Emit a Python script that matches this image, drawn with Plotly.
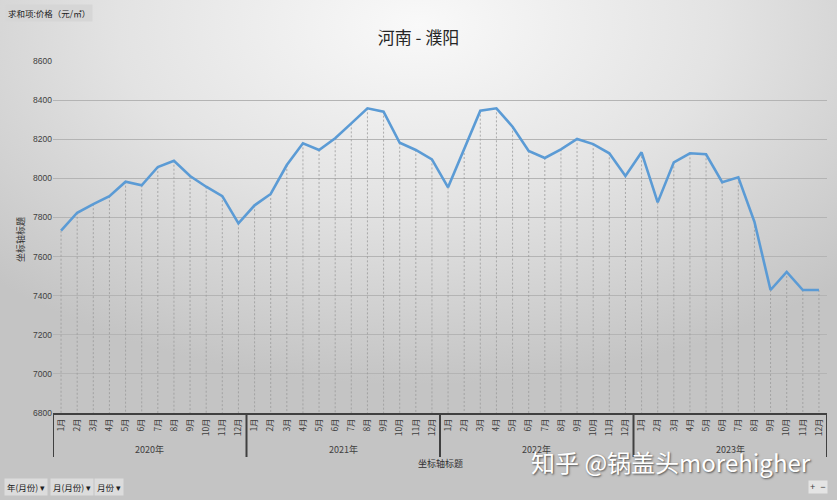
import base64
import plotly.graph_objects as go

# ---------------- data ----------------
years = ["2020年", "2021年", "2022年", "2023年"]
months = ["1月", "2月", "3月", "4月", "5月", "6月", "7月", "8月", "9月", "10月", "11月", "12月"]
prices_2020 = [7732, 7824, 7868, 7909, 7983, 7964, 8058, 8090, 8012, 7957, 7909, 7770]
prices_2021 = [7862, 7920, 8068, 8179, 8145, 8205, 8281, 8358, 8341, 8182, 8145, 8097]
prices_2022 = [7954, 8150, 8346, 8358, 8264, 8140, 8104, 8148, 8201, 8175, 8128, 8012]
prices_2023 = [8133, 7877, 8082, 8128, 8123, 7980, 8005, 7778, 7429, 7521, 7429, 7429]
y_ticks = [6800, 7000, 7200, 7400, 7600, 7800, 8000, 8200, 8400, 8600]

title_text = "河南 - 濮阳"
axis_title = "坐标轴标题"
field_label = "求和项:价格（元/㎡）"
filter_buttons = ["年(月份) ▾", "月(月份) ▾", "月份 ▾"]
watermark = "知乎 @锅盖头morehigher"

# ---------------- derived ----------------
values = prices_2020 + prices_2021 + prices_2022 + prices_2023
n = len(values)
xs = list(range(n))
tick_text = months * len(years)
y_lo, y_hi = y_ticks[0], y_ticks[-1]

W, H = 837, 500
ML, MR, MT, MB = 53, 10, 61, 87
PW, PH = W - ML - MR, H - MT - MB

def px_x(p):
    return (p - ML) / PW

def px_y(p):
    return 1 - (p - MT) / PH

FONT = "Liberation Sans, Noto Sans CJK SC, sans-serif"
CJK = "Noto Sans CJK SC, sans-serif"

# background gradient as svg image
svg = (
    "<svg xmlns='http://www.w3.org/2000/svg' width='837' height='500'>"
    "<defs><radialGradient id='g' cx='50%' cy='5%' r='72%' fx='50%' fy='5%'>"
    "<stop offset='0%' stop-color='#f9f9f9'/>"
    "<stop offset='50%' stop-color='#e3e3e3'/>"
    "<stop offset='100%' stop-color='#c4c4c4'/>"
    "</radialGradient></defs>"
    "<rect width='837' height='500' fill='url(#g)'/>"
    "</svg>"
)
svg_uri = "data:image/svg+xml;base64," + base64.b64encode(svg.encode()).decode()

fig = go.Figure()

# drop lines
dx, dy = [], []
for i, v in zip(xs, values):
    dx += [i, i, None]
    dy += [v, y_lo, None]
fig.add_trace(go.Scatter(
    x=dx, y=dy, mode="lines",
    line=dict(color="#9a9a9a", width=0.8, dash="2px,2px"),
    hoverinfo="skip", showlegend=False,
))

# main line
fig.add_trace(go.Scatter(
    x=xs, y=values, mode="lines",
    line=dict(color="#5b9bd5", width=2.6),
    showlegend=False,
))

shapes = []
annotations = []

# year dividers and labels
for k, yr in enumerate(years):
    start = k * len(months) - 0.5
    mid = k * len(months) + (len(months) - 1) / 2
    shapes.append(dict(type="line", xref="x", yref="paper", x0=start, x1=start,
                       y0=0, y1=px_y(457), line=dict(color="#404040", width=2)))
    annotations.append(dict(x=mid, y=px_y(449), xref="x", yref="paper", text=yr,
                            xanchor="center", yanchor="middle",
                            showarrow=False, font=dict(family=CJK, size=9, color="#404040")))
end = n - 0.5
shapes.append(dict(type="line", xref="x", yref="paper", x0=end, x1=end,
                   y0=0, y1=px_y(457), line=dict(color="#404040", width=2)))

# axis titles
annotations.append(dict(x=px_x(20), y=px_y(240), xref="paper", yref="paper", text=axis_title,
                        xanchor="center", yanchor="middle",
                        textangle=-90, showarrow=False, font=dict(family=CJK, size=9, color="#303030")))
annotations.append(dict(x=px_x(440), y=px_y(463), xref="paper", yref="paper", text=axis_title,
                        xanchor="center", yanchor="middle",
                        showarrow=False, font=dict(family=CJK, size=9, color="#303030")))

# field button top-left
annotations.append(dict(x=px_x(5), y=px_y(13), xref="paper", yref="paper", text=field_label,
                        xanchor="left", yanchor="middle", showarrow=False, bgcolor="#d6d6d6",
                        borderpad=2, font=dict(family=CJK, size=8.5, color="#202020")))

# filter buttons bottom-left
bx = [4, 50, 94]
for x0, t in zip(bx, filter_buttons):
    annotations.append(dict(x=px_x(x0), y=px_y(487), xref="paper", yref="paper", text=t,
                            xanchor="left", yanchor="middle", showarrow=False, bgcolor="#dcdcdc",
                            borderpad=2, font=dict(family=CJK, size=8.5, color="#202020")))
annotations.append(dict(x=px_x(818), y=px_y(487), xref="paper", yref="paper", text="+  −",
                        xanchor="center", yanchor="middle",
                        showarrow=False, bgcolor="#e4e4e4", borderpad=1,
                        font=dict(family=FONT, size=9, color="#404040")))

# watermark
annotations.append(dict(x=px_x(671), y=px_y(461), xref="paper", yref="paper", text=watermark,
                        xanchor="center", yanchor="middle",
                        showarrow=False,
                        font=dict(family=CJK, size=24, color="#ffffff",
                                  shadow="1px 1px 2px #505050")))

fig.update_layout(
    width=W, height=H,
    margin=dict(l=ML, r=MR, t=MT, b=MB),
    paper_bgcolor="#d8d8d8",
    plot_bgcolor="rgba(0,0,0,0)",
    title=dict(text=title_text, x=0.5, xanchor="center", y=1 - 38 / H, yanchor="middle",
               font=dict(family=CJK, size=17, color="#262626")),
    images=[dict(source=svg_uri, xref="paper", yref="paper",
                 x=px_x(0), y=px_y(0), sizex=W / PW, sizey=H / PH,
                 xanchor="left", yanchor="top", sizing="stretch", layer="below")],
    shapes=shapes,
    annotations=annotations,
    xaxis=dict(
        range=[-0.5, n - 0.5],
        tickmode="array", tickvals=xs, ticktext=tick_text,
        tickangle=-90, showgrid=False, zeroline=False,
        showline=True, linecolor="#404040", linewidth=2,
        ticks="", ticklen=0,
        tickfont=dict(family=CJK, size=8.5, color="#404040"),
    ),
    yaxis=dict(
        range=[y_lo, y_hi], tickmode="array", tickvals=y_ticks,
        showgrid=True, gridcolor="#b4b4b4", gridwidth=1,
        zeroline=False, showline=False, ticks="",
        tickfont=dict(family=FONT, size=8.5, color="#404040"),
    ),
)

fig.write_html("out.html", config={"displayModeBar": False},
               post_script="document.body.style.margin='0px';document.body.style.overflow='hidden';")
